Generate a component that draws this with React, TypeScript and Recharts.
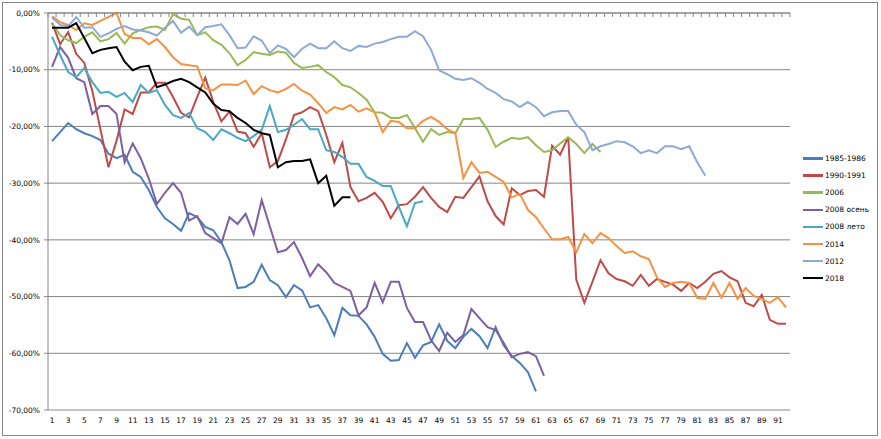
// Drawdown comparison chart (Recharts)
import React from "react";
import { LineChart, Line, XAxis, YAxis, CartesianGrid, Legend } from "recharts";

// day numbers
const days = [
  1, 2, 3, 4, 5, 6, 7, 8, 9, 10, 11, 12, 13, 14, 15, 16, 17, 18, 19, 20,
  21, 22, 23, 24, 25, 26, 27, 28, 29, 30, 31, 32, 33, 34, 35, 36, 37, 38, 39, 40,
  41, 42, 43, 44, 45, 46, 47, 48, 49, 50, 51, 52, 53, 54, 55, 56, 57, 58, 59, 60,
  61, 62, 63, 64, 65, 66, 67, 68, 69, 70, 71, 72, 73, 74, 75, 76, 77, 78, 79, 80,
  81, 82, 83, 84, 85, 86, 87, 88, 89, 90, 91, 92,
];

// values in percent
const s1985 = [
  -22.6, -21.0, -19.4, -20.5, -21.2, -21.7, -22.4, -24.8, -25.6, -25.0,
  -28.0, -28.9, -31.2, -34.2, -36.2, -37.2, -38.4, -35.3, -36.0, -37.7,
  -38.3, -40.4, -43.6, -48.5, -48.3, -47.4, -44.4, -47.1, -48.0, -50.1,
  -48.0, -48.9, -51.9, -51.5, -53.8, -56.8, -52.0, -53.3, -53.4, -54.9,
  -57.1, -60.1, -61.3, -61.2, -58.2, -60.8, -58.6, -58.0, -54.9, -57.8,
  -59.1, -57.1, -55.7, -57.0, -59.1, -55.4, -58.6, -60.5, -61.7, -63.3, -66.7,
];

const s1990 = [
  -1.7, -5.5, -3.4, -7.2, -8.8, -13.8, -20.5, -27.2, -22.5, -17.0,
  -17.8, -14.0, -14.0, -12.3, -12.3, -14.8, -17.6, -18.4, -14.8, -11.4,
  -15.7, -19.1, -17.4, -20.9, -21.2, -23.6, -21.2, -27.2, -26.1, -22.3,
  -18.0, -17.5, -16.6, -17.3, -21.5, -26.3, -22.9, -30.7, -33.2, -32.6,
  -31.7, -33.3, -36.2, -33.9, -33.7, -32.4, -30.7, -32.6, -34.2, -35.1,
  -32.4, -32.6, -30.7, -28.8, -33.2, -35.8, -37.3, -30.9, -32.1, -31.4,
  -31.2, -32.4, -23.4, -25.0, -21.9, -47.0, -51.1, -47.4, -43.6, -45.9,
  -46.9, -47.3, -48.1, -46.2, -48.1, -46.9, -47.4, -47.9, -49.0, -47.6,
  -48.5, -47.4, -46.0, -45.5, -46.6, -47.3, -51.1, -51.7, -49.7, -54.1, -54.8, -54.8,
];

const s2006 = [
  -1.8, -3.9, -4.8, -5.3, -4.2, -3.4, -5.0, -4.6, -3.5, -5.4,
  -3.6, -3.0, -2.5, -2.4, -3.0, -0.2, -1.0, -1.2, -3.9, -3.4,
  -4.8, -5.6, -7.1, -9.2, -8.3, -6.9, -7.2, -7.4, -6.8, -7.0,
  -8.8, -9.7, -9.5, -9.2, -10.4, -11.3, -12.7, -13.1, -14.1, -15.3,
  -17.5, -17.6, -18.5, -18.5, -18.0, -20.3, -22.7, -20.5, -21.5, -21.0,
  -21.2, -18.7, -18.7, -18.5, -20.6, -23.6, -22.7, -22.0, -22.2, -21.9,
  -23.3, -24.5, -24.2, -23.0, -21.9, -23.1, -24.7, -23.1, -24.5,
];

const s2008autumn = [
  -9.5, -6.0, -7.9, -11.5, -12.2, -17.8, -16.4, -16.4, -17.8, -26.3,
  -23.0, -25.6, -29.2, -33.7, -31.7, -30.0, -31.7, -36.6, -35.8, -38.8,
  -39.7, -40.6, -36.0, -37.2, -35.4, -39.0, -33.0, -37.6, -42.2, -41.8,
  -40.4, -43.2, -46.4, -44.3, -45.7, -47.6, -48.3, -49.0, -53.3, -51.9,
  -47.6, -51.0, -47.4, -47.4, -52.0, -54.5, -54.5, -57.7, -59.6, -56.4,
  -58.0, -56.8, -52.2, -53.8, -55.4, -55.9, -58.2, -60.7, -60.1, -59.8, -60.5, -64.0,
];

const s2008summer = [
  -4.2, -7.4, -10.4, -11.3, -9.7, -12.2, -14.1, -13.9, -14.8, -14.1,
  -15.7, -12.7, -14.1, -13.6, -16.2, -18.0, -18.5, -17.6, -20.3, -21.0,
  -22.4, -20.5, -21.2, -22.0, -22.6, -21.7, -20.6, -16.4, -21.0, -20.6,
  -19.7, -18.7, -20.5, -20.5, -24.2, -24.5, -25.4, -26.6, -26.6, -28.9,
  -29.6, -30.5, -30.5, -34.2, -37.6, -33.5, -33.2,
];

const s2014 = [
  -0.6, -1.6, -2.1, -3.0, -1.8, -2.1, -1.4, -0.7, 0.0, -3.7,
  -4.4, -4.4, -5.5, -4.6, -6.0, -7.8, -9.0, -9.2, -9.4, -13.3,
  -13.6, -12.6, -12.6, -12.7, -11.9, -14.3, -12.9, -13.6, -14.0, -13.4,
  -12.5, -13.7, -14.4, -15.9, -17.6, -16.6, -17.0, -16.2, -17.4, -16.8,
  -17.5, -21.0, -19.0, -19.2, -20.3, -20.3, -19.0, -18.3, -19.2, -20.5,
  -21.2, -29.1, -26.3, -28.2, -28.0, -28.9, -29.8, -32.5, -31.9, -34.7,
  -36.0, -38.0, -39.9, -39.9, -39.5, -42.2, -39.0, -40.6, -38.8, -39.7,
  -41.1, -42.3, -42.0, -42.9, -43.4, -46.6, -48.3, -47.6, -47.4, -47.6,
  -50.2, -50.4, -47.6, -50.2, -47.6, -50.4, -48.5, -49.9, -50.4, -51.1, -50.1, -51.9,
];

const s2012 = [
  -0.8, -2.1, -2.3, -0.7, -2.6, -2.5, -4.2, -3.6, -2.8, -2.3,
  -2.9, -3.1, -3.4, -4.0, -2.6, -1.4, -3.5, -2.4, -3.9, -2.5,
  -2.3, -2.0, -3.9, -6.2, -6.1, -4.1, -4.9, -7.1, -5.7, -6.3,
  -7.8, -6.3, -5.4, -6.2, -6.2, -5.0, -6.2, -6.7, -5.8, -6.0,
  -5.4, -5.1, -4.6, -4.2, -4.2, -3.2, -4.1, -6.5, -10.1, -10.8,
  -11.6, -11.8, -11.5, -12.3, -13.4, -14.1, -15.2, -15.6, -16.6, -15.7,
  -16.6, -18.2, -17.5, -17.3, -17.3, -19.7, -21.0, -24.2, -23.5, -23.1,
  -22.6, -22.8, -23.5, -24.7, -24.2, -24.7, -23.5, -23.5, -24.0, -23.5, -26.3, -28.7,
];

const s2018 = [
  -2.6, -2.6, -2.6, -1.8, -4.4, -7.1, -6.5, -6.2, -6.0, -8.6,
  -10.1, -9.5, -9.3, -13.1, -12.6, -12.0, -11.6, -12.2, -13.1, -14.0,
  -16.0, -17.1, -17.3, -18.5, -19.4, -20.6, -21.2, -21.5, -27.2, -26.3,
  -26.1, -26.1, -25.8, -30.0, -28.7, -34.0, -32.5, -32.5,
];

const yTicks = [0, -10, -20, -30, -40, -50, -60, -70];

const series = [
  { key: "s1985", name: "1985-1986", color: "#4A7EBB", values: s1985 },
  { key: "s1990", name: "1990-1991", color: "#BE4B48", values: s1990 },
  { key: "s2006", name: "2006", color: "#98B954", values: s2006 },
  { key: "s2008a", name: "2008 осень", color: "#7D60A0", values: s2008autumn },
  { key: "s2008s", name: "2008 лето", color: "#46AAC5", values: s2008summer },
  { key: "s2014", name: "2014", color: "#F69240", values: s2014 },
  { key: "s2012", name: "2012", color: "#8EA9D6", values: s2012 },
  { key: "s2018", name: "2018", color: "#000000", values: s2018 },
];

const rows = days.map((day, i) => {
  const row: Record<string, number | null> = { day };
  series.forEach((s) => {
    row[s.key] = s.values[i] ?? null;
  });
  return row;
});

const fmt = (v: number) => `${v.toFixed(2).replace(".", ",")}%`;

const FONT = "DejaVu Sans";
const AXIS = "#868686";
const PLOT_W = 742;
const HALF = PLOT_W / days.length / 2;

// tick marks between categories, pointing down into the plot
const TopTick = (props: any) => {
  const { x, y, index } = props;
  return (
    <g>
      <line x1={x - HALF} x2={x - HALF} y1={y} y2={y + 4} stroke={AXIS} strokeWidth={1} />
      {index === days.length - 1 && (
        <line x1={x + HALF} x2={x + HALF} y1={y} y2={y + 4} stroke={AXIS} strokeWidth={1} />
      )}
    </g>
  );
};

const LegendBox = () => (
  <div style={{ fontFamily: FONT, fontSize: 7.5, color: "#000" }}>
    {series.map((s) => (
      <div key={s.key} style={{ height: 17.1, display: "flex", alignItems: "center" }}>
        <div style={{ width: 20, height: 2.5, background: s.color, marginRight: 2 }} />
        <span>{s.name}</span>
      </div>
    ))}
  </div>
);

const App: React.FC = () => {
  return (
    <div style={{ position: "absolute", left: 0, top: 0, width: 881, height: 439, background: "#fff" }}>
      <div
        style={{
          position: "absolute",
          left: 2,
          top: 2,
          width: 874,
          height: 432,
          border: "1px solid #868686",
        }}
      />
      <div style={{ position: "absolute", left: 0, top: 0 }}>
        <LineChart width={881} height={439} data={rows} margin={{ top: 12, right: 91, bottom: 9, left: 8 }}>
          <CartesianGrid horizontal vertical={false} stroke={AXIS} strokeWidth={1} />
          <XAxis
            dataKey="day"
            interval={1}
            padding={{ left: HALF, right: HALF }}
            axisLine={false}
            tickLine={false}
            tickSize={0}
            tickMargin={8}
            height={20}
            tick={{ fontSize: 7.5, fill: "#000", fontFamily: FONT }}
          />
          <XAxis
            xAxisId="top"
            orientation="top"
            dataKey="day"
            interval={0}
            minTickGap={0}
            padding={{ left: HALF, right: HALF }}
            axisLine={{ stroke: AXIS }}
            tickLine={false}
            tickSize={0}
            tickMargin={0}
            height={1}
            tick={TopTick}
          />
          <YAxis
            domain={[-70, 0]}
            ticks={yTicks}
            tickFormatter={fmt}
            width={40}
            axisLine={{ stroke: AXIS }}
            tickLine={{ stroke: AXIS }}
            tickSize={4}
            tickMargin={4}
            tick={{ fontSize: 7.5, fill: "#000", fontFamily: FONT }}
          />
          <Legend
            layout="vertical"
            align="center"
            verticalAlign="middle"
            wrapperStyle={{ position: "absolute", left: 803, top: 150, width: 75, height: 140 }}
            content={<LegendBox />}
          />
          {series.map((s) => (
            <Line
              key={s.key}
              type="linear"
              dataKey={s.key}
              name={s.name}
              stroke={s.color}
              strokeWidth={2}
              dot={false}
              activeDot={false}
              isAnimationActive={false}
            />
          ))}
        </LineChart>
      </div>
    </div>
  );
};

export default App;
